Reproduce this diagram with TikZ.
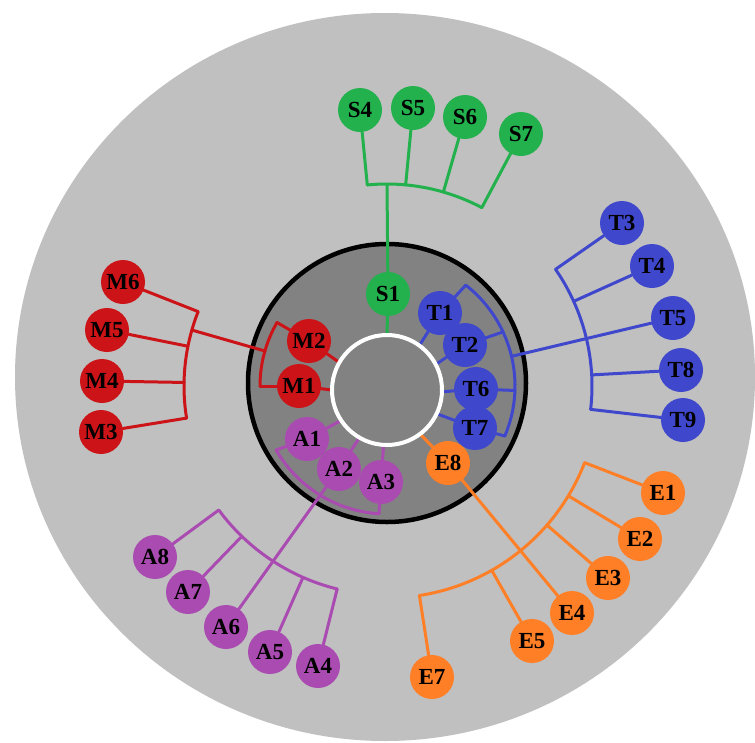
\documentclass[tikz,border=0pt]{standalone}
\usepackage{fontspec}
\setmainfont{Liberation Serif}
\usetikzlibrary{calc}
\pgfdeclarelayer{bgl}
\pgfdeclarelayer{linel}
\pgfsetlayers{bgl,linel,main}
\definecolor{bgdisk}{RGB}{192,192,192}
\definecolor{ringgray}{RGB}{130,130,130}
\definecolor{cS}{RGB}{34,177,76}
\definecolor{cT}{RGB}{63,72,204}
\definecolor{cM}{RGB}{204,20,24}
\definecolor{cA}{RGB}{170,75,178}
\definecolor{cE}{RGB}{255,127,39}
\begin{document}
\begin{tikzpicture}[x=1pt,y=-1pt,
  nd/.style={circle, minimum size=44pt, inner sep=0pt, font=\fontsize{23}{23}\selectfont\bfseries, text=black},
  ln/.style={line width=3pt, line cap=round, line join=round}]
\useasboundingbox (0,0) rectangle (755,742);
\begin{pgfonlayer}{bgl}
\fill[white] (0,0) rectangle (755,742);
\fill[bgdisk] (385,377) ellipse [x radius=370, y radius=364];
\fill[ringgray, draw=black, line width=4.5pt] (387,383) circle[radius=139];
\end{pgfonlayer}
\coordinate (C) at (387,386);
\coordinate (W) at (387,390);
\draw[white, line width=4pt] (W) circle[radius=55];
% nodes
\node[nd, fill=cS] (S1) at (388,294) {S1};
\node[nd, fill=cS] (S4) at (360,110) {S4};
\node[nd, fill=cS] (S5) at (413,108) {S5};
\node[nd, fill=cS] (S6) at (465,117) {S6};
\node[nd, fill=cS] (S7) at (521,134) {S7};
\node[nd, fill=cT] (T1) at (440,313) {T1};
\node[nd, fill=cT] (T2) at (465,345) {T2};
\node[nd, fill=cT] (T6) at (476,389) {T6};
\node[nd, fill=cT] (T7) at (475,428) {T7};
\node[nd, fill=cT] (T3) at (622,223) {T3};
\node[nd, fill=cT] (T4) at (652,266) {T4};
\node[nd, fill=cT] (T5) at (673,318) {T5};
\node[nd, fill=cT] (T8) at (681,370) {T8};
\node[nd, fill=cT] (T9) at (683,420) {T9};
\node[nd, fill=cM] (M1) at (299,386) {M1};
\node[nd, fill=cM] (M2) at (309,341) {M2};
\node[nd, fill=cM] (M3) at (101,432) {M3};
\node[nd, fill=cM] (M4) at (102,381) {M4};
\node[nd, fill=cM] (M5) at (107,330) {M5};
\node[nd, fill=cM] (M6) at (123,282) {M6};
\node[nd, fill=cA] (A1) at (307,439) {A1};
\node[nd, fill=cA] (A2) at (339,469) {A2};
\node[nd, fill=cA] (A3) at (381,482) {A3};
\node[nd, fill=cA] (A4) at (318,666) {A4};
\node[nd, fill=cA] (A5) at (270,652) {A5};
\node[nd, fill=cA] (A6) at (226,627) {A6};
\node[nd, fill=cA] (A7) at (188,592) {A7};
\node[nd, fill=cA] (A8) at (155,557) {A8};
\node[nd, fill=cE] (E8) at (448,463) {E8};
\node[nd, fill=cE] (E1) at (663,493) {E1};
\node[nd, fill=cE] (E2) at (640,539) {E2};
\node[nd, fill=cE] (E3) at (608,578) {E3};
\node[nd, fill=cE] (E4) at (572,613) {E4};
\node[nd, fill=cE] (E5) at (532,641) {E5};
\node[nd, fill=cE] (E7) at (432,677) {E7};
% connectors
\begin{pgfonlayer}{linel}
% S
\coordinate (s1i) at ($(W)+(-90:55)$);
\coordinate (sT) at ($(C)+(-90:202)$);
\coordinate (s4a) at ($(C)+(-95.6:202)$);
\coordinate (s5a) at ($(C)+(-84.7:202)$);
\coordinate (s6a) at ($(C)+(-73.8:202)$);
\coordinate (s7a) at ($(C)+(-62:202)$);
\draw[ln, cS] (s1i) -- (S1) -- (sT);
\draw[ln, cS] (s4a) arc[start angle=-95.6, end angle=-62, radius=202];
\draw[ln, cS] (s4a) -- (S4);
\draw[ln, cS] (s5a) -- (S5);
\draw[ln, cS] (s6a) -- (S6);
\draw[ln, cS] (s7a) -- (S7);
% T
\coordinate (t1i) at ($(W)+(-54:55)$);
\coordinate (t2i) at ($(W)+(-27.7:55)$);
\coordinate (t6i) at ($(W)+(1.9:55)$);
\coordinate (t7i) at ($(W)+(25.5:55)$);
\draw[ln, cT] (t1i) -- (T1);
\draw[ln, cT] (t2i) -- (T2);
\draw[ln, cT] (t6i) -- (T6);
\draw[ln, cT] (t7i) -- (T7);
\coordinate (t1a) at ($(C)+(-52:128)$);
\coordinate (t2a) at ($(C)+(-25:128)$);
\coordinate (t6a) at ($(C)+(2:128)$);
\coordinate (t7a) at ($(C)+(23:128)$);
\coordinate (tTa) at ($(C)+(-13.4:128)$);
\draw[ln, cT] (t1a) arc[start angle=-52, end angle=23, radius=128];
\draw[ln, cT] (T1) -- (t1a);
\draw[ln, cT] (T2) -- (t2a);
\draw[ln, cT] (T6) -- (t6a);
\draw[ln, cT] (T7) -- (t7a);
\draw[ln, cT] (tTa) -- (T5);
\coordinate (t3a) at ($(C)+(-34.7:205)$);
\coordinate (t4a) at ($(C)+(-24.4:205)$);
\coordinate (t8a) at ($(C)+(-3.1:205)$);
\coordinate (t9a) at ($(C)+(6.55:205)$);
\draw[ln, cT] (t3a) arc[start angle=-34.7, end angle=6.55, radius=205];
\draw[ln, cT] (t3a) -- (T3);
\draw[ln, cT] (t4a) -- (T4);
\draw[ln, cT] (t8a) -- (T8);
\draw[ln, cT] (t9a) -- (T9);
% M
\coordinate (m1i) at ($(W)+(180:55)$);
\coordinate (m2i) at ($(W)+(210:55)$);
\draw[ln, cM] (m1i) -- (M1);
\draw[ln, cM] (m2i) -- (M2);
\coordinate (m1a) at ($(C)+(180:127)$);
\coordinate (m2a) at ($(C)+(210:127)$);
\coordinate (mTi) at ($(C)+(196:127)$);
\coordinate (mTo) at ($(C)+(196:203)$);
\draw[ln, cM] (m1a) arc[start angle=180, end angle=210, radius=127];
\draw[ln, cM] (M1) -- (m1a);
\draw[ln, cM] (M2) -- (m2a);
\draw[ln, cM] (mTi) -- (mTo);
\coordinate (m3a) at ($(C)+(170.9:203)$);
\coordinate (m4a) at ($(C)+(181:203)$);
\coordinate (m5a) at ($(C)+(191.3:203)$);
\coordinate (m6a) at ($(C)+(201.5:203)$);
\draw[ln, cM] (m3a) arc[start angle=170.9, end angle=201.5, radius=203];
\draw[ln, cM] (m3a) -- (M3);
\draw[ln, cM] (m4a) -- (M4);
\draw[ln, cM] (m5a) -- (M5);
\draw[ln, cM] (m6a) -- (M6);
% A
\coordinate (a1i) at ($(W)+(146.5:55)$);
\coordinate (a2i) at ($(W)+(120:55)$);
\coordinate (a3i) at ($(W)+(93.6:55)$);
\draw[ln, cA] (a1i) -- (A1);
\draw[ln, cA] (a2i) -- (A2);
\draw[ln, cA] (a3i) -- (A3);
\coordinate (a1a) at ($(C)+(150:128)$);
\coordinate (a3a) at ($(C)+(93.6:128)$);
\draw[ln, cA] (a3a) arc[start angle=93.6, end angle=150, radius=128];
\draw[ln, cA] (A1) -- (a1a);
\draw[ln, cA] (A3) -- (a3a);
\draw[ln, cA] (A2) -- (A6);
\coordinate (a4a) at ($(C)+(103.8:209)$);
\coordinate (a5a) at ($(C)+(113.7:209)$);
\coordinate (a7a) at ($(C)+(134:209)$);
\coordinate (a8a) at ($(C)+(143.6:209)$);
\draw[ln, cA] (a4a) arc[start angle=103.8, end angle=143.6, radius=209];
\draw[ln, cA] (a4a) -- (A4);
\draw[ln, cA] (a5a) -- (A5);
\draw[ln, cA] (a7a) -- (A7);
\draw[ln, cA] (a8a) -- (A8);
% E
\coordinate (e8i) at ($(W)+(53:55)$);
\draw[ln, cE] (e8i) -- (E8);
\draw[ln, cE] (E8) -- (E4);
\coordinate (e1a) at ($(C)+(21.2:212)$);
\coordinate (e2a) at ($(C)+(31.2:212)$);
\coordinate (e3a) at ($(C)+(41:212)$);
\coordinate (e5a) at ($(C)+(60.4:212)$);
\coordinate (e7a) at ($(C)+(81.2:212)$);
\draw[ln, cE] (e1a) arc[start angle=21.2, end angle=81.2, radius=212];
\draw[ln, cE] (e1a) -- (E1);
\draw[ln, cE] (e2a) -- (E2);
\draw[ln, cE] (e3a) -- (E3);
\draw[ln, cE] (e5a) -- (E5);
\draw[ln, cE] (e7a) -- (E7);
\end{pgfonlayer}
\end{tikzpicture}
\end{document}
